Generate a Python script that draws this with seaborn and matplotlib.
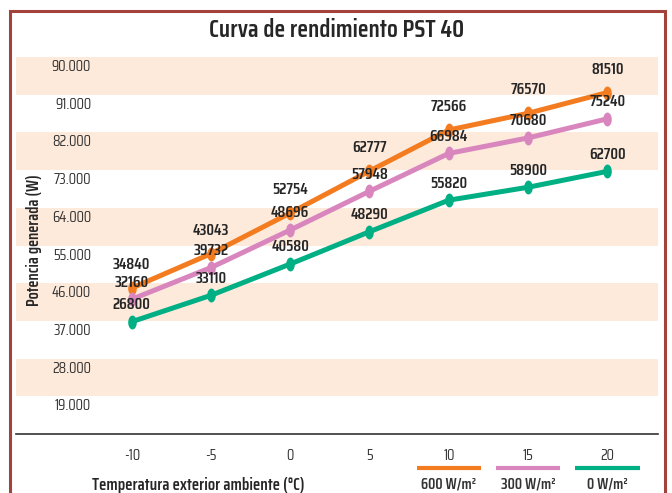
import numpy as np
import pandas as pd
import matplotlib
matplotlib.use("Agg")
import matplotlib.pyplot as plt
from matplotlib.lines import Line2D
from matplotlib.patches import Rectangle
import seaborn as sns

# === Data ===
temperaturas = [-10, -5, 0, 5, 10, 15, 20]
pot_600 = [34840, 43043, 52754, 62777, 72566, 76570, 81510]
pot_300 = [32160, 39732, 48696, 57948, 66984, 70680, 75240]
pot_0 = [26800, 33110, 40580, 48290, 55820, 58900, 62700]
series = ["600 W/m²", "300 W/m²", "0 W/m²"]
ytick_labels = ["19.000", "28.000", "37.000", "46.000", "55.000",
                "64.000", "73.000", "82.000", "91.000", "90.000"]

colores = {"600 W/m²": "#f47c20", "300 W/m²": "#d886bd", "0 W/m²": "#00af84"}
offsets = {"600 W/m²": 16.5, "300 W/m²": 12, "0 W/m²": 12}

df = pd.DataFrame({
    "temp": temperaturas * 3,
    "potencia": pot_600 + pot_300 + pot_0,
    "serie": [s for s in series for _ in temperaturas],
})

sns.set_style("white")
plt.rcParams["font.family"] = ["Saira Condensed", "DejaVu Sans"]
TXT = "#262626"

fig = plt.figure(figsize=(6.72, 4.93), dpi=100)
ax = fig.add_axes([16 / 672, 59 / 493, 642 / 672, 377 / 493])

# === Alternating horizontal bands ===
paso = 9000
for k in range(1, 10, 2):
    ax.axhspan(k * paso, (k + 1) * paso, color="#fdeadb", lw=0, zorder=0)

# elliptic marker
t = np.linspace(0, 2 * np.pi, 40)
elipse = list(zip(0.31 * np.cos(t), 0.5 * np.sin(t)))

sns.lineplot(data=df, x="temp", y="potencia", hue="serie", hue_order=series,
             palette=colores, marker=elipse, markersize=10, markeredgewidth=0,
             linewidth=3.6, legend=False, ax=ax, zorder=3)

for s in series:
    sub = df[df["serie"] == s]
    for x, y in zip(sub["temp"], sub["potencia"]):
        ax.annotate(f"{y}", (x, y), xytext=(0, offsets[s]), textcoords="offset points",
                    ha="center", va="center", fontsize=11.5, fontweight="semibold",
                    color=TXT, zorder=5)

ax.set_xlim(-17.3, 23.2)
ax.set_ylim(0, 90000)
ax.set_xticks(temperaturas)
ax.set_xticklabels([str(v) for v in temperaturas])
# labels sit a little below each band edge
ax.set_yticks([paso * (k - 0.08) for k in range(1, 11)])
ax.set_yticklabels(ytick_labels)
for lab in ax.get_yticklabels():
    lab.set_va("top")
ax.tick_params(axis="y", length=0, pad=-54, labelsize=11, colors="#333333")
ax.tick_params(axis="x", length=0, pad=11, labelsize=11, colors="#333333")
ax.set_xlabel("")
ax.set_ylabel("")
for side in ["top", "right", "left"]:
    ax.spines[side].set_visible(False)
ax.spines["bottom"].set_color("#333333")
ax.spines["bottom"].set_linewidth(1.2)

# === Title and axis labels ===
fig.text(337 / 672, 1 - 30 / 493, "Curva de rendimiento PST 40", ha="center", va="center",
         fontsize=18, fontweight="semibold", color=TXT)
fig.text(34 / 672, 1 - 240 / 493, "Potencia generada (W)", rotation=90, ha="center",
         va="center", fontsize=11.8, fontweight="semibold", color=TXT)
fig.text(198 / 672, 1 - 485 / 493, "Temperatura exterior ambiente (°C)", ha="center",
         va="center", fontsize=12.2, fontweight="semibold", color=TXT)

# === Legend: line above label ===
leg_x = [(417, 481), (496, 560), (575, 640)]
for s, (x0, x1) in zip(series, leg_x):
    fig.add_artist(Line2D([x0 / 672, x1 / 672], [1 - 468 / 493] * 2,
                          color=colores[s], lw=3, solid_capstyle="butt"))
    fig.text((x0 + x1) / 2 / 672, 1 - 485 / 493, s, ha="center", va="center",
             fontsize=11, fontweight="semibold", color="#333333")

# outer frame
fig.add_artist(Rectangle((10 / 672, -0.05), 655 / 672, 1.05 - 11 / 493,
                         transform=fig.transFigure, fill=False,
                         edgecolor="#a3413b", lw=2.2))

fig.savefig("out.png", dpi=100)
